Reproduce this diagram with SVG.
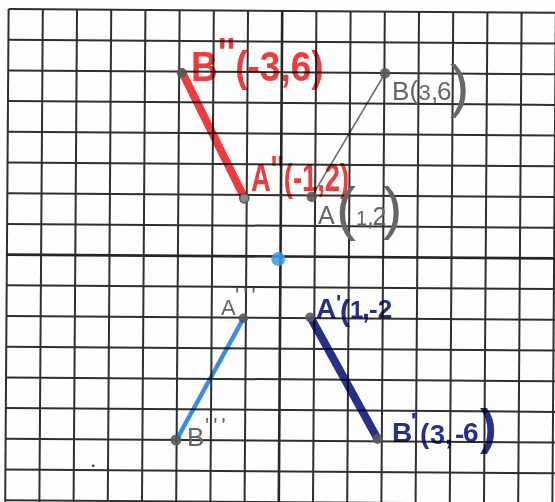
<svg xmlns="http://www.w3.org/2000/svg" width="555" height="502" viewBox="0 0 555 502">
<style>
.grid line { stroke:#2f2f2f; stroke-width:2; }
.grid line.axis { stroke:#262626; stroke-width:2.6; }
.ink { mix-blend-mode:multiply; }
.pencil { fill:#666666; font-family:"Liberation Sans", Arial, sans-serif; }
.red { fill:#ef3b3b; font-family:"Liberation Sans", Arial, sans-serif; font-weight:bold; }
.navy { fill:#23318d; font-family:"Liberation Sans", Arial, sans-serif; font-weight:bold; }
.dot { fill:#5a5a5a; fill-opacity:0.9; }
.seg { stroke-linecap:round; fill:none; }
</style>
<rect x="0" y="0" width="555" height="502" fill="#fefefe"/>
<g class="grid" id="grid" transform="rotate(0.4 280.5 256.5)">
<line x1="6.9" y1="10.9" x2="6.9" y2="520"/>
<line x1="41.1" y1="10.9" x2="41.1" y2="520"/>
<line x1="75.3" y1="10.9" x2="75.3" y2="520"/>
<line x1="109.5" y1="10.9" x2="109.5" y2="520"/>
<line x1="143.7" y1="10.9" x2="143.7" y2="520"/>
<line x1="177.9" y1="10.9" x2="177.9" y2="520"/>
<line x1="212.1" y1="10.9" x2="212.1" y2="520"/>
<line x1="246.3" y1="10.9" x2="246.3" y2="520"/>
<line class="axis" x1="280.5" y1="10.9" x2="280.5" y2="520"/>
<line x1="314.7" y1="10.9" x2="314.7" y2="520"/>
<line x1="348.9" y1="10.9" x2="348.9" y2="520"/>
<line x1="383.1" y1="10.9" x2="383.1" y2="520"/>
<line x1="417.3" y1="10.9" x2="417.3" y2="520"/>
<line x1="451.5" y1="10.9" x2="451.5" y2="520"/>
<line x1="485.7" y1="10.9" x2="485.7" y2="520"/>
<line x1="519.9" y1="10.9" x2="519.9" y2="520"/>
<line x1="554.1" y1="10.9" x2="554.1" y2="520"/>
<line x1="6.9" y1="10.9" x2="570" y2="10.9"/>
<line x1="6.9" y1="41.6" x2="570" y2="41.6"/>
<line x1="6.9" y1="72.3" x2="570" y2="72.3"/>
<line x1="6.9" y1="103" x2="570" y2="103"/>
<line x1="6.9" y1="133.7" x2="570" y2="133.7"/>
<line x1="6.9" y1="164.4" x2="570" y2="164.4"/>
<line x1="6.9" y1="195.1" x2="570" y2="195.1"/>
<line x1="6.9" y1="225.8" x2="570" y2="225.8"/>
<line class="axis" x1="6.9" y1="256.5" x2="570" y2="256.5"/>
<line x1="6.9" y1="287.2" x2="570" y2="287.2"/>
<line x1="6.9" y1="317.9" x2="570" y2="317.9"/>
<line x1="6.9" y1="348.6" x2="570" y2="348.6"/>
<line x1="6.9" y1="379.3" x2="570" y2="379.3"/>
<line x1="6.9" y1="410" x2="570" y2="410"/>
<line x1="6.9" y1="440.7" x2="570" y2="440.7"/>
<line x1="6.9" y1="471.4" x2="570" y2="471.4"/>
<line x1="6.9" y1="502.1" x2="570" y2="502.1"/>
</g>
<circle cx="93.3" cy="465.7" r="1.3" fill="#333"/>
<g id="connectors">
<line class="seg ink" x1="183" y1="74" x2="243" y2="195" stroke="#ef3b3b" stroke-width="8"/>
<line class="seg ink" x1="312" y1="320" x2="376" y2="436" stroke="#23318d" stroke-width="8"/>
<line class="seg ink" x1="242" y1="321" x2="178" y2="437" stroke="#3a8fe3" stroke-width="4.5"/>
<line class="seg ink" x1="311.7" y1="196.7" x2="385" y2="73.3" stroke="#6a6a6a" stroke-width="1.6"/>
</g>
<g id="node-B2">
<circle class="dot" cx="181.7" cy="72.7" r="5"/>
<text class="red ink" transform="translate(191 81) scale(0.88 1)" x="0" y="0" font-size="42">B<tspan dy="-14">''</tspan><tspan dy="14">(-3,6)</tspan></text>
</g>
<g id="node-A2">
<circle cx="244.3" cy="198.3" r="4.6" fill="#8a8a8a" stroke="#555" stroke-width="1.5"/>
<text class="red ink" transform="translate(251 191) scale(0.72 1)" x="0" y="0" font-size="38">A<tspan dy="-8">''</tspan><tspan dy="8">(-1,2)</tspan></text>
</g>
<g id="node-A">
<circle class="dot" cx="311.7" cy="196.7" r="5.2"/>
<text class="pencil" y="224" font-size="25"><tspan x="318">A</tspan><tspan x="336" y="229" font-size="60">(</tspan><tspan x="356" y="225" font-size="20">1</tspan><tspan x="367">,</tspan><tspan x="372.6">2</tspan><tspan x="383" y="228" font-size="58">)</tspan></text>
</g>
<g id="node-B">
<circle class="dot" cx="385" cy="73.3" r="5.2"/>
<text class="pencil" y="100" font-size="26"><tspan x="392">B</tspan><tspan x="409.5" y="99">(</tspan><tspan x="418.5" y="100" font-size="22">3</tspan><tspan x="431">,</tspan><tspan x="437">6</tspan><tspan x="450" y="106" font-size="58">)</tspan></text>
</g>
<g id="node-O">
<circle cx="278.3" cy="259" r="7" fill="#3a9be8" fill-opacity="0.85"/>
</g>
<g id="node-A1">
<circle class="dot" cx="310" cy="317.3" r="4.8"/>
<text class="navy ink" y="318" font-size="28"><tspan x="316">A</tspan><tspan x="336" y="310" font-size="22">'</tspan><tspan x="340" y="321" font-size="30">(</tspan><tspan x="350" y="318" font-size="24">1</tspan><tspan x="362">,</tspan><tspan x="369" font-size="26">-2</tspan></text>
</g>
<g id="node-B1">
<circle class="dot" cx="377.7" cy="439" r="5"/>
<text class="navy ink" y="442" font-size="28"><tspan x="392">B</tspan><tspan x="411" y="428" font-size="22">'</tspan><tspan x="420" y="443" font-size="28">(</tspan><tspan x="430" y="444" font-size="27">3</tspan><tspan x="445">,</tspan><tspan x="455">-</tspan><tspan x="463" y="442">6</tspan><tspan x="480" y="444" font-size="50">)</tspan></text>
</g>
<g id="node-A3">
<circle class="dot" cx="243.3" cy="318.3" r="4.8"/>
<text class="pencil" y="315" font-size="22"><tspan x="221">A</tspan><tspan x="235" y="303" letter-spacing="4">'''</tspan></text>
</g>
<g id="node-B3">
<circle class="dot" cx="176" cy="440" r="5.5"/>
<text class="pencil" y="446" font-size="26"><tspan x="187">B</tspan><tspan x="205" y="433" font-size="22" letter-spacing="4">'''</tspan></text>
</g>
</svg>
